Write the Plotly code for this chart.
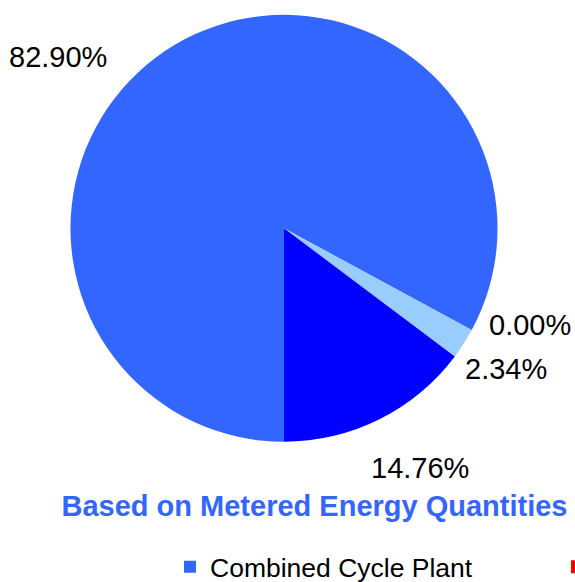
import plotly.graph_objects as go

# ---- data ----
labels = ["Combined Cycle Plant", "Gas Turbine Plant", "Steam Plant", "Hydro Plant"]
shares = [82.90, 0.00, 2.34, 14.76]
slice_colors = ["#3366FF", "#FF0000", "#99CCFF", "#0000FF"]
chart_title = "Based on Metered Energy Quantities"

W, H = 575, 582

# label placement (window pixel centres), kept apart from the data
label_px = [(57.5, 57), (530, 324.5), (506, 368.5), (419.5, 468)]

FONT = "Liberation Sans, Arial, sans-serif"


def fx(px):
    return px / W


def fy(py):
    return 1 - py / H


fig = go.Figure()
fig.add_trace(go.Pie(
    labels=labels,
    values=shares,
    sort=False,
    direction="clockwise",
    rotation=180,
    marker=dict(colors=slice_colors, line=dict(width=0)),
    textinfo="none",
    hoverinfo="label+percent",
    domain=dict(x=[fx(70.5), fx(497.5)], y=[fy(441.8), fy(14.8)]),
    showlegend=True,
    legend="legend",
    automargin=False,
))

# second legend entry (only its swatch edge is visible in the window)
fig.add_trace(go.Scatter(
    x=[None], y=[None], mode="markers", name=labels[1],
    marker=dict(symbol="square", size=13, color=slice_colors[1], line=dict(width=0)),
    legend="legend2", hoverinfo="skip",
))

annotations = []
for v, (px, py) in zip(shares, label_px):
    annotations.append(dict(
        text=f"{v:.2f}%", x=fx(px), y=fy(py), xref="paper", yref="paper",
        xanchor="center", yanchor="middle", showarrow=False,
        font=dict(family=FONT, size=29, color="#000000"),
    ))

legend_y = fy(543)
fig.update_layout(
    width=W, height=H,
    margin=dict(l=0, r=0, t=0, b=0, pad=0, autoexpand=False),
    paper_bgcolor="white", plot_bgcolor="white",
    xaxis=dict(visible=False), yaxis=dict(visible=False),
    title=dict(text=f"<b>{chart_title}</b>", x=fx(314.5), xanchor="center",
               y=fy(506), yanchor="middle", xref="container", yref="container",
               font=dict(family=FONT, size=29, color="#3366FF")),
    annotations=annotations,
    legend=dict(orientation="v", x=fx(210 - 40), xanchor="left",
                y=legend_y, yanchor="top",
                font=dict(family=FONT, size=26.5, color="#000000"),
                bgcolor="rgba(0,0,0,0)", borderwidth=0),
    legend2=dict(orientation="v", x=fx(571 + 6.5 - 20), xanchor="left",
                 y=legend_y, yanchor="top",
                 font=dict(family=FONT, size=26.5, color="#000000"),
                 bgcolor="rgba(0,0,0,0)", borderwidth=0),
)

fig.write_html(
    "out.html",
    config={"displayModeBar": False},
    post_script="document.body.style.margin='0';document.body.style.overflow='hidden';",
)
